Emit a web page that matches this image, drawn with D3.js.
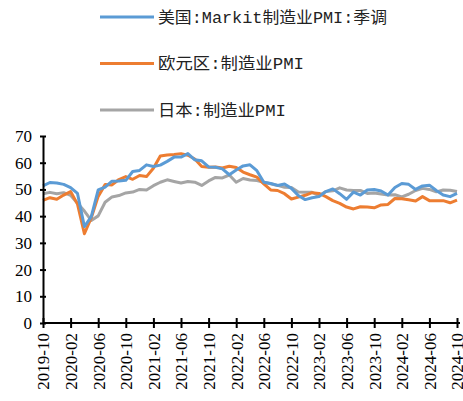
<!DOCTYPE html>
<html>
<head>
<meta charset="utf-8">
<script src="https://cdn.jsdelivr.net/npm/d3@7"></script>
<style>
body { margin: 0; background: #fff; }
svg { display: block; }
</style>
</head>
<body>
<div id="chart"></div>
<script>
// 月份 2019-10 .. 2024-10
var months = [];
for (var y = 2019, m = 10; y < 2024 || (y === 2024 && m <= 10); ) {
	months.push(y + '-' + (m < 10 ? '0' + m : m));
	m++; if (m > 12) { m = 1; y++; }
}

var tick_labels = ['2019-10','2020-02','2020-06','2020-10','2021-02','2021-06','2021-10','2022-02',
	'2022-06','2022-10','2023-02','2023-06','2023-10','2024-02','2024-06','2024-10'];
var y_ticks = [0, 10, 20, 30, 40, 50, 60, 70];

var us_pmi = [51.3, 52.6, 52.4,
	51.9, 50.7, 48.5, 36.1, 39.8, 49.8, 50.9, 53.1, 53.2, 53.4, 56.7, 57.1,
	59.2, 58.6, 59.1, 60.5, 62.1, 62.1, 63.4, 61.1, 60.7, 58.4, 58.3, 57.7,
	55.5, 57.3, 58.8, 59.2, 57.0, 52.7, 52.2, 51.5, 52.0, 50.4, 47.7, 46.2,
	46.9, 47.3, 49.2, 50.2, 48.4, 46.3, 49.0, 47.9, 49.8, 50.0, 49.4, 47.9,
	50.7, 52.2, 51.9, 50.0, 51.3, 51.6, 49.6, 47.9, 47.3, 48.5];

var ez_pmi = [45.9, 46.9, 46.3,
	47.9, 49.2, 44.5, 33.4, 39.4, 47.4, 51.8, 51.7, 53.7, 54.8, 53.8, 55.2,
	54.8, 57.9, 62.5, 62.9, 63.1, 63.4, 62.8, 61.4, 58.6, 58.3, 58.4, 58.0,
	58.7, 58.2, 56.5, 55.5, 54.6, 52.1, 49.8, 49.6, 48.4, 46.4, 47.1, 47.8,
	48.8, 48.5, 47.3, 45.8, 44.8, 43.4, 42.7, 43.5, 43.4, 43.1, 44.2, 44.4,
	46.6, 46.5, 46.1, 45.7, 47.3, 45.8, 45.8, 45.8, 45.0, 46.0];

var jp_pmi = [48.4, 48.9, 48.4,
	48.8, 47.8, 44.8, 41.9, 38.4, 40.1, 45.2, 47.2, 47.7, 48.7, 49.0, 50.0,
	49.8, 51.4, 52.7, 53.6, 53.0, 52.4, 53.0, 52.7, 51.5, 53.2, 54.5, 54.3,
	55.4, 52.7, 54.1, 53.5, 53.3, 52.7, 52.1, 51.5, 50.8, 50.7, 49.0, 48.9,
	48.9, 47.7, 49.2, 49.5, 50.6, 49.8, 49.6, 49.6, 48.5, 48.7, 48.3, 47.9,
	48.0, 47.2, 48.2, 49.6, 50.4, 50.0, 49.1, 49.8, 49.7, 49.2];

var series = [
	{name: '美国:Markit制造业PMI:季调', values: us_pmi, color: '#5B9BD5', len: 229},
	{name: '欧元区:制造业PMI', values: ez_pmi, color: '#ED7D31', len: 146},
	{name: '日本:制造业PMI', values: jp_pmi, color: '#A5A5A5', len: 128}
];

var width = 463, height = 401;

var x_scale = d3.scalePoint()
	.domain(months)
	.range([43, 457]);

var y_scale = d3.scaleLinear()
	.domain([0, 70])
	.range([323, 136]);

var svg = d3.select('#chart').append('svg')
	.attr('width', width)
	.attr('height', height);

var lineFunction = d3.line()
	.x(function(d, i) { return x_scale(months[i]); })
	.y(function(d) { return y_scale(d); });

// lineas (gris debajo)
[2, 1, 0].forEach(function(k) {
	svg.append('path')
		.attr('d', lineFunction(series[k].values))
		.attr('fill', 'none')
		.attr('stroke', series[k].color)
		.attr('stroke-width', 3)
		.attr('stroke-linejoin', 'round');
});

// eje y
var y_axis = d3.axisLeft(y_scale).tickValues(y_ticks).tickSize(0).tickPadding(8);
var gy = svg.append('g')
	.attr('transform', 'translate(43,0)')
	.call(y_axis);
gy.select('.domain').attr('stroke', '#000').attr('stroke-width', 2);
gy.selectAll('text')
	.attr('font-family', 'Liberation Serif, Times New Roman, serif')
	.attr('font-size', 17)
	.attr('fill', '#000')
	.attr('dx', -3);
gy.selectAll('.tick').append('line')
	.attr('x1', -3).attr('x2', 3)
	.attr('stroke', '#000').attr('stroke-width', 2);

// eje x
var x_axis = d3.axisBottom(x_scale).tickValues(tick_labels).tickSize(0).tickPadding(10);
var gx = svg.append('g')
	.attr('transform', 'translate(0,323)')
	.call(x_axis);
gx.select('.domain').attr('stroke', '#000').attr('stroke-width', 2)
	.attr('d', 'M43,0H460');
gx.selectAll('.tick').append('line')
	.attr('y1', -5).attr('y2', 5)
	.attr('stroke', '#000').attr('stroke-width', 2);
gx.selectAll('text')
	.attr('font-family', 'Liberation Serif, Times New Roman, serif')
	.attr('font-size', 17)
	.attr('fill', '#000')
	.attr('text-anchor', 'end')
	.attr('transform', 'rotate(-90)')
	.attr('x', -10)
	.attr('y', 0)
	.attr('dy', '0.35em');

// leyenda
var legend = svg.selectAll('.legend')
	.data(series)
	.enter()
	.append('g')
	.attr('class', 'legend')
	.attr('transform', function(d, i) { return 'translate(100,' + (17 + i * 46.5) + ')'; });

legend.append('line')
	.attr('x1', 0).attr('x2', 54)
	.attr('stroke', function(d) { return d.color; })
	.attr('stroke-width', 3);

legend.append('text')
	.attr('x', 58)
	.attr('dy', '0.35em')
	.attr('font-family', 'Liberation Mono, Noto Sans CJK SC, monospace')
	.attr('font-size', 16)
	.attr('fill', '#222')
	.attr('textLength', function(d) { return d.len; })
	.attr('lengthAdjust', 'spacingAndGlyphs')
	.text(function(d) { return d.name; });
</script>
</body>
</html>
